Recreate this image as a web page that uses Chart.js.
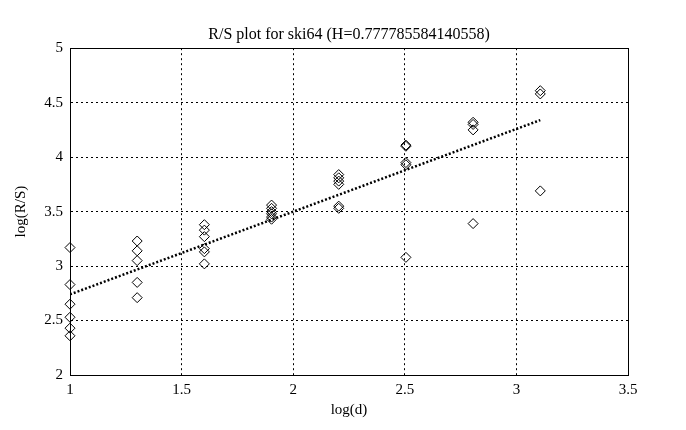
<!DOCTYPE html>
<html>
<head>
<meta charset="utf-8">
<script src="https://cdn.jsdelivr.net/npm/chart.js@4"></script>
<style>
  html, body { margin: 0; padding: 0; background: #fff; }
  #wrap { width: 686px; height: 430px; }
</style>
</head>
<body>
<div id="wrap"><canvas id="rsChart"></canvas></div>
<script>
// log10 of block sizes d
const logD = [1, 1.301, 1.602, 1.903, 2.204, 2.505, 2.806, 3.107];
// log(R/S) values for each block size
const logRS = [
    [3.17, 2.83, 2.65, 2.53, 2.43, 2.36],
    [3.23, 3.14, 3.05, 2.85, 2.71],
    [3.38, 3.33, 3.27, 3.16, 3.13, 3.02],
    [3.56, 3.53, 3.50, 3.48, 3.45, 3.43],
    [3.84, 3.81, 3.78, 3.75, 3.55, 3.53],
    [4.11, 4.10, 3.95, 3.93, 3.08],
    [4.32, 4.30, 4.25, 3.39],
    [4.61, 4.58, 3.69]
];
// fitted line end points
const fitX = [1, 3.107];
const fitY = [2.74, 4.34];

const xTicks = [1, 1.5, 2, 2.5, 3, 3.5];
const yTicks = [2, 2.5, 3, 3.5, 4, 4.5, 5];

const points = [];
logD.forEach((x, i) => logRS[i].forEach(y => points.push({x: x, y: y})));
const fitLine = fitX.map((x, i) => ({x: x, y: fitY[i]}));

const serif = 'Liberation Serif, Times New Roman, serif';

// box around the plot + title centred over the plot area
const frame = {
    id: 'frame',
    afterLayout(chart) {
        const t = chart.titleBlock;
        if (t) {
            t.left = chart.chartArea.left;
            t.right = chart.chartArea.right;
        }
    },
    afterDraw(chart) {
        const a = chart.chartArea;
        const c = chart.ctx;
        c.save();
        c.strokeStyle = '#000';
        c.lineWidth = 1;
        c.strokeRect(Math.round(a.left) + 0.5, Math.round(a.top) + 0.5,
            Math.round(a.right - a.left), Math.round(a.bottom - a.top));
        c.restore();
    }
};

new Chart(document.getElementById('rsChart'), {
    type: 'scatter',
    data: {
        datasets: [{
            label: 'R/S',
            data: points,
            pointStyle: 'rectRot',
            pointRadius: 5,
            pointBorderWidth: 1,
            borderColor: '#000',
            backgroundColor: 'rgba(0,0,0,0)',
            pointHoverRadius: 5,
            clip: false
        }, {
            label: 'fit',
            type: 'line',
            data: fitLine,
            borderColor: '#000',
            borderWidth: 2.5,
            borderDash: [2, 2],
            pointRadius: 0,
            fill: false
        }]
    },
    plugins: [frame],
    options: {
        responsive: true,
        maintainAspectRatio: false,
        animation: false,
        layout: { padding: { left: 8, right: 58, top: 0, bottom: 7 } },
        plugins: {
            legend: { display: false },
            tooltip: { enabled: false },
            title: {
                display: true,
                text: 'R/S plot for ski64 (H=0.777785584140558)',
                color: '#000',
                font: { family: serif, size: 16, weight: 'normal' },
                padding: { top: 25, bottom: 4 }
            }
        },
        scales: {
            x: {
                type: 'linear',
                min: 1,
                max: 3.5,
                afterBuildTicks: s => { s.ticks = xTicks.map(v => ({value: v})); },
                ticks: {
                    color: '#000',
                    font: { family: serif, size: 15 },
                    padding: 6,
                    callback: v => String(v)
                },
                grid: {
                    color: '#000',
                    lineWidth: 1,
                    drawTicks: false
                },
                border: { display: true, color: '#000', dash: [2, 3] },
                title: {
                    display: true,
                    text: 'log(d)',
                    color: '#000',
                    font: { family: serif, size: 15 },
                    padding: { top: 0 }
                },
                afterFit: s => { s.height = 48; }
            },
            y: {
                type: 'linear',
                min: 2,
                max: 5,
                afterBuildTicks: s => { s.ticks = yTicks.map(v => ({value: v})); },
                ticks: {
                    color: '#000',
                    font: { family: serif, size: 15 },
                    padding: 7,
                    callback: v => String(v)
                },
                grid: {
                    color: '#000',
                    lineWidth: 1,
                    drawTicks: false
                },
                border: { display: true, color: '#000', dash: [2, 3] },
                title: {
                    display: true,
                    text: 'log(R/S)',
                    color: '#000',
                    font: { family: serif, size: 15 },
                    padding: { bottom: 0 }
                },
                afterFit: s => { s.width = 62; }
            }
        }
    }
});
</script>
</body>
</html>
